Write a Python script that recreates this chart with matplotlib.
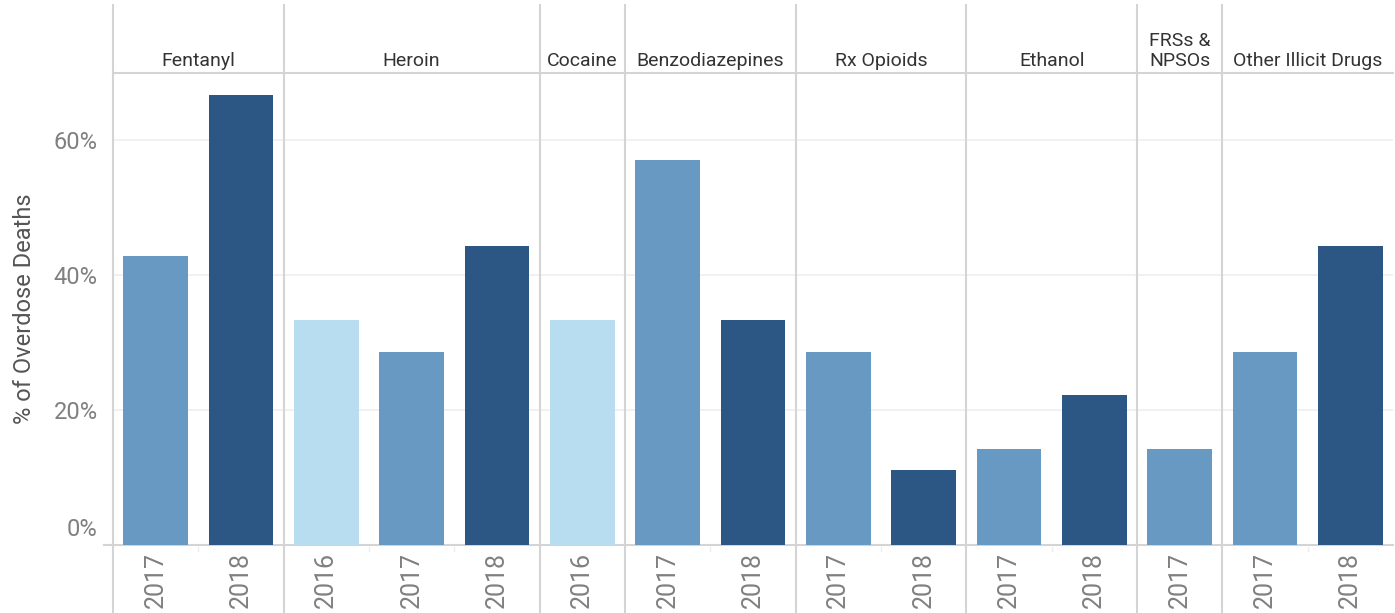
# =========================================================
# Overdose deaths by drug and year - faceted bar chart
# =========================================================

import matplotlib
matplotlib.use("Agg")
import matplotlib.pyplot as plt
import matplotlib.transforms as mtransforms


# =========================================================
# Data
# =========================================================

categories = [
    "Fentanyl",
    "Heroin",
    "Cocaine",
    "Benzodiazepines",
    "Rx Opioids",
    "Ethanol",
    "FRSs &\nNPSOs",
    "Other Illicit Drugs",
]

group_sizes = [2, 3, 1, 2, 2, 2, 1, 2]

years = [
    "2017", "2018",
    "2016", "2017", "2018",
    "2016",
    "2017", "2018",
    "2017", "2018",
    "2017", "2018",
    "2017",
    "2017", "2018",
]

values = [
    42.9, 66.7,
    33.3, 28.6, 44.4,
    33.3,
    57.1, 33.3,
    28.6, 11.1,
    14.3, 22.2,
    14.3,
    28.6, 44.4,
]

year_colors = {
    "2016": "#b9ddf0",
    "2017": "#6799c2",
    "2018": "#2c5784",
}

y_ticks = [0, 20, 40, 60]


# =========================================================
# Styling
# =========================================================

plt.rcParams["font.family"] = ["Roboto", "DejaVu Sans"]

LINE_COLOR = "#d4d4d4"
GRID_COLOR = "#efefef"
TEXT_COLOR = "#808080"


# =========================================================
# Figure
# =========================================================

fig = plt.figure(figsize=(13.95, 6.13), dpi=100)
ax = fig.add_axes([113 / 1395, 68 / 613, 1280 / 1395, 472 / 613])

positions = list(range(len(values)))

ax.bar(
    positions,
    values,
    width=0.76,
    color=[year_colors[y] for y in years],
    zorder=3,
)

ax.set_xlim(-0.5, len(values) - 0.5)
ax.set_ylim(0, 70)

# y axis
ax.set_yticks(y_ticks)
ax.set_yticklabels([f"{t}%" for t in y_ticks], fontsize=17, color=TEXT_COLOR)
ax.tick_params(axis="y", length=0, pad=11)
ax.yaxis.grid(True, color=GRID_COLOR, linewidth=1.2, zorder=0)

# lift the 0% label off the bottom line
zero_label = ax.get_yticklabels()[0]
zero_label.set_transform(
    zero_label.get_transform()
    + mtransforms.ScaledTranslation(0, 0.18, fig.dpi_scale_trans)
)

ax.set_ylabel("% of Overdose Deaths", fontsize=17, color="#555555",
              labelpad=13)

# x axis (years)
ax.set_xticks(positions)
ax.set_xticklabels(years, rotation=90, fontsize=18, color=TEXT_COLOR, va="top")
ax.tick_params(axis="x", length=0, pad=5)

# spines
for side in ["right", "left"]:
    ax.spines[side].set_visible(False)
ax.spines["top"].set_color(LINE_COLOR)
ax.spines["top"].set_linewidth(1.5)
ax.spines["bottom"].set_color(LINE_COLOR)
ax.spines["bottom"].set_linewidth(1.5)

trans = ax.get_xaxis_transform()

# bottom line reaching a bit to the left
ax.plot([-0.6, -0.5], [0, 0], transform=trans, color=LINE_COLOR,
        linewidth=1.5, clip_on=False)


# =========================================================
# Category dividers and headers
# =========================================================

start = 0
for name, size in zip(categories, group_sizes):

    left = start - 0.5
    right = start + size - 0.5

    ax.plot([left, left], [-0.144, 1.144], transform=trans,
            color=LINE_COLOR, linewidth=1.5, clip_on=False, zorder=4)

    # faint ticks between years of the same category
    for k in range(1, size):
        ax.plot([left + k, left + k], [-0.004, -0.012], transform=trans,
                color="#ececec", linewidth=1.0, clip_on=False)

    ax.text((left + right) / 2, 1.006, name, transform=trans,
            ha="center", va="bottom", fontsize=14, color="#333333",
            linespacing=1.15)

    start += size


# =========================================================
# Save
# =========================================================

fig.savefig("out.png", dpi=100)
plt.close(fig)
